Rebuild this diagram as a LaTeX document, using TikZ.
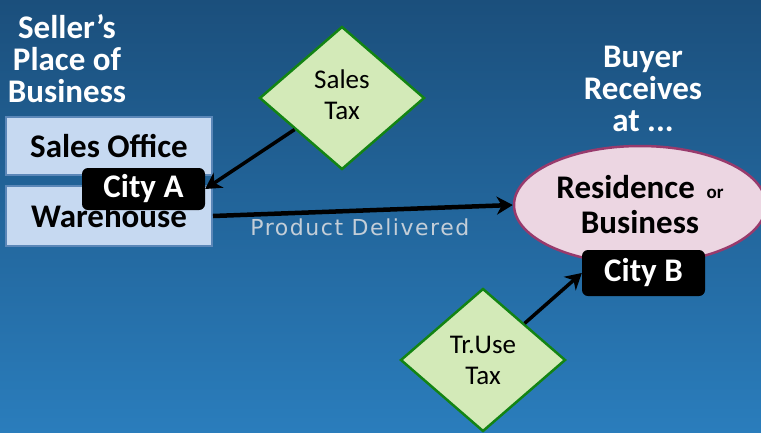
\documentclass[tikz,border=0pt]{standalone}
\usepackage{fontspec}
\setmainfont{Carlito}
\newfontfamily\labelfont{DejaVu Sans}
\usepackage{tikz}
\usetikzlibrary{arrows.meta}
\usetikzlibrary{shapes.geometric}
\usepackage{xcolor}

\definecolor{bgtop}{HTML}{1B4F7C}
\definecolor{bgbottom}{HTML}{2A7DBC}
\definecolor{boxfill}{HTML}{C6D9F1}
\definecolor{boxline}{HTML}{5B87B8}
\definecolor{taxfill}{HTML}{D3EAB8}
\definecolor{taxline}{HTML}{138413}
\definecolor{buyfill}{HTML}{ECD6E2}
\definecolor{buyline}{HTML}{983A6C}
\definecolor{deliv}{HTML}{C4CED8}

\tikzset{
  heading/.style={text=white,font=\fontsize{33}{32}\selectfont\bfseries,align=center},
  place/.style={draw=boxline,line width=2pt,fill=boxfill,minimum width=206pt,inner sep=0pt,
    font=\fontsize{33}{33}\selectfont\bfseries},
  city/.style={fill=black,text=white,rounded corners=6pt,minimum width=123pt,inner sep=0pt,
    font=\fontsize{33}{33}\selectfont\bfseries},
  tax/.style={diamond,draw=taxline,line width=2.5pt,fill=taxfill,minimum width=165pt,
    minimum height=143pt,inner sep=0pt,align=center,font=\fontsize{27}{31}\selectfont},
  flow/.style={draw,black,line width=3.5pt,-{Stealth[length=16pt,width=18pt,inset=5pt]}}
}

\begin{document}
\begin{tikzpicture}[x=1pt,y=-1pt]
  \shade [top color=bgtop,bottom color=bgbottom] (0,0) rectangle (761,432);
  \useasboundingbox (0,0) rectangle (761,432);

  \node (seller) [heading] at (67,59) {Seller’s\\Place of\\Business};
  \node (buyer) [heading] at (643,89) {Buyer\\Receives\\at ...};

  \node (office) [place,minimum height=58pt] at (109,146) {Sales Office};
  \node (ware) [place,minimum height=60pt] at (109,216) {Warehouse};

  \node (resid) [ellipse,draw=buyline,line width=2.5pt,fill=buyfill,minimum width=252pt,
    minimum height=118pt,inner sep=0pt,align=center,font=\fontsize{33}{35}\selectfont\bfseries]
    at (640,205) {Residence {\fontsize{19}{19}\selectfont\ or}\\Business};

  \node (stax) [tax] at (342,98) {\raisebox{4pt}{\begin{tabular}{@{}c@{}}Sales\\Tax\end{tabular}}};
  \node (utax) [tax] at (483,360) {Tr.Use\\Tax};

  \draw [flow,line width=4.5pt] (ware.east) -- (resid.west)
    node (deliv) [pos=0.49,below=3pt,text=deliv,font=\labelfont\fontsize{22}{22}\selectfont\addfontfeatures{LetterSpace=7}] {Product Delivered};

  \node (cityA) [city,minimum height=42pt] at (143.5,189) {City A};
  \node (cityB) [city,minimum height=46pt] at (643.5,273) {City B};

  \path [every edge/.style={flow}]
    (stax) edge (cityA.east)
    (utax) edge (cityB.west);
\end{tikzpicture}
\end{document}
